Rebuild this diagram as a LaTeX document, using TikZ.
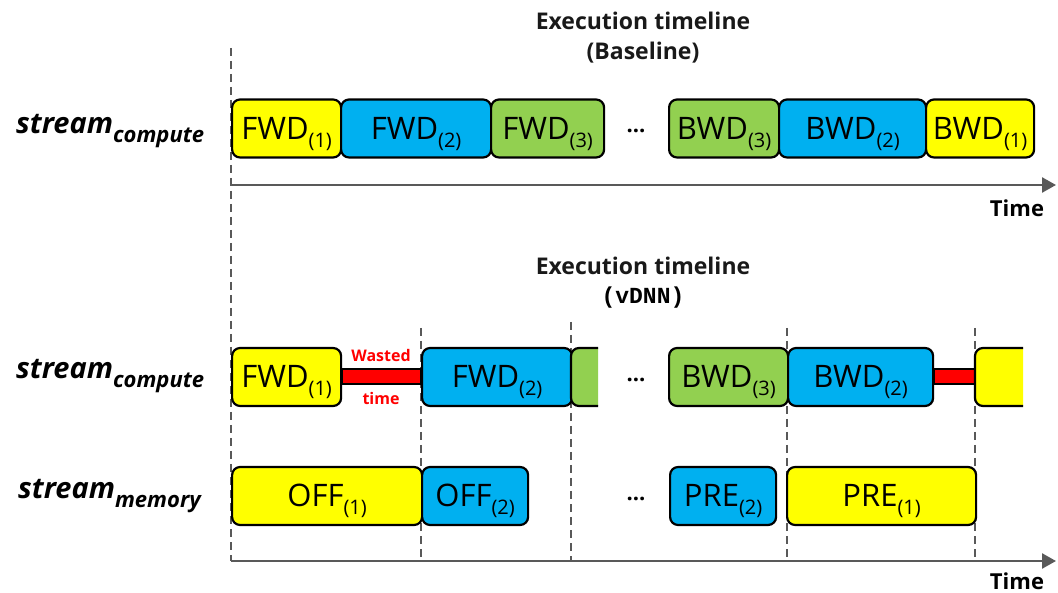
\documentclass[tikz,border=0pt]{standalone}
\usepackage{fontspec}
\setmainfont{Open Sans}
\newfontfamily\monob{Liberation Mono}
\usetikzlibrary{arrows.meta}
\definecolor{cyel}{HTML}{FFFF00}
\definecolor{cblu}{HTML}{00B0F0}
\definecolor{cgrn}{HTML}{92D050}
\definecolor{cred}{HTML}{FF0000}
\definecolor{cgry}{HTML}{595959}
\newcommand{\subx}[1]{\raisebox{-8pt}{\fontsize{20}{20}\selectfont #1}}
\newcommand{\streamlbl}[1]{{\fontsize{29}{29}\selectfont\bfseries\itshape stream}\raisebox{-9pt}{\fontsize{22}{22}\selectfont\bfseries\itshape #1}}
\tikzset{
  blk/.style={draw=black, line width=2.2pt, rounded corners=8pt, inner sep=0pt,
    minimum height=58pt, anchor=west, text height=22pt, text depth=0pt,
    font=\fontsize{31}{31}\selectfont},
  vdash/.style={draw=cgry, line width=2pt, dash pattern=on 8pt off 5pt},
  axisln/.style={draw=cgry, line width=2.5pt, -{Triangle[length=14pt,width=15pt]}},
  ttl/.style={font=\fontsize{23}{23}\selectfont\bfseries, text=black!90, inner sep=0pt},
  timelbl/.style={font=\fontsize{22}{22}\selectfont\bfseries, inner sep=0pt},
  wasted/.style={font=\fontsize{16}{16}\selectfont\bfseries, text=cred, inner sep=0pt},
  redbar/.style={draw=black, fill=cred, line width=2pt},
  dots/.style={font=\fontsize{22}{22}\selectfont\bfseries, inner sep=0pt},
  strm/.style={inner sep=0pt, anchor=west},
}
\begin{document}
\begin{tikzpicture}[x=1pt,y=-1pt]
\useasboundingbox (0,0) rectangle (1058,593);

% titles
\node[ttl] (t1a) at (643,21) {Execution timeline};
\node[ttl] (t1b) at (643,53) {(Baseline)};
\node[ttl] (t2a) at (643,266) {Execution timeline};
\node[font=\fontsize{23}{23}\selectfont\monob\bfseries, inner sep=0pt] (t2b) at (643,298) {(vDNN)};

% stream labels
\node[strm] (s1) at (16,131) {\streamlbl{compute}};
\node[strm] (s2) at (16,376) {\streamlbl{compute}};
\node[strm] (s3) at (18,496) {\streamlbl{memory}};

% dashed guide lines
\coordinate (d0t) at (231,48);  \coordinate (d0b) at (231,561);
\coordinate (d1t) at (421,328); \coordinate (d1b) at (421,561);
\coordinate (d2t) at (571,322); \coordinate (d2b) at (571,561);
\coordinate (d3t) at (787,328); \coordinate (d3b) at (787,561);
\coordinate (d4t) at (975,328); \coordinate (d4b) at (975,561);
\draw[vdash] (d0t) -- (d0b);
\draw[vdash] (d1t) -- (d1b);
\draw[vdash] (d2t) -- (d2b);
\draw[vdash] (d3t) -- (d3b);
\draw[vdash] (d4t) -- (d4b);

% axes
\coordinate (a1l) at (231,185); \coordinate (a1r) at (1056,185);
\coordinate (a2l) at (231,561); \coordinate (a2r) at (1056,561);
\draw[axisln] (a1l) -- (a1r);
\draw[axisln] (a2l) -- (a2r);
\node[timelbl] (tm1) at (1017,208) {Time};
\node[timelbl] (tm2) at (1017,581) {Time};

% baseline row
\node[blk, fill=cyel, minimum width=109pt] (b1) at (231,128.5) {FWD\subx{(1)}};
\node[blk, fill=cblu, minimum width=150pt] (b2) at (340,128.5) {FWD\subx{(2)}};
\node[blk, fill=cgrn, minimum width=113pt] (b3) at (490,128.5) {FWD\subx{(3)}};
\node[dots] (bd) at (636,131) {...};
\node[blk, fill=cgrn, minimum width=110pt] (b4) at (668,128.5) {BWD\subx{(3)}};
\node[blk, fill=cblu, minimum width=147pt] (b5) at (778,128.5) {BWD\subx{(2)}};
\node[blk, fill=cyel, minimum width=108pt] (b6) at (925,128.5) {BWD\subx{(1)}};

% vDNN compute row
\node[blk, fill=cyel, minimum width=109pt] (c1) at (231,377) {FWD\subx{(1)}};
\node[blk, fill=cblu, minimum width=150pt] (c2) at (421,377) {FWD\subx{(2)}};
\draw[redbar] (c1.east |- 0,369) rectangle (c2.west |- 0,384);
\node[wasted] (w1) at (381,356) {Wasted};
\node[wasted] (w2) at (381,399) {time};
\fill[cgrn, rounded corners=8pt] (598,348) -- (571,348) -- (571,406) -- (598,406);
\fill[cgrn] (590,348) rectangle (598,406);
\draw[line width=2.2pt, rounded corners=8pt] (598,348) -- (571,348) -- (571,406) -- (598,406);
\node[dots] (cd) at (636,380) {...};
\node[blk, fill=cgrn, minimum width=119pt] (c4) at (668,377) {BWD\subx{(3)}};
\node[blk, fill=cblu, minimum width=145pt] (c5) at (787,377) {BWD\subx{(2)}};
\draw[redbar] (c5.east |- 0,369) rectangle (975,384);
\fill[cyel, rounded corners=8pt] (1023,348) -- (975,348) -- (975,406) -- (1023,406);
\fill[cyel] (1010,348) rectangle (1023,406);
\draw[line width=2.2pt, rounded corners=8pt] (1023,348) -- (975,348) -- (975,406) -- (1023,406);

% memory row
\node[blk, fill=cyel, minimum width=190pt] (m1) at (231,496) {OFF\subx{(1)}};
\node[blk, fill=cblu, minimum width=106pt] (m2) at (421,496) {OFF\subx{(2)}};
\node[dots] (md) at (636,499) {...};
\node[blk, fill=cblu, minimum width=106pt] (m3) at (669,496) {PRE\subx{(2)}};
\node[blk, fill=cyel, minimum width=189pt] (m4) at (786,496) {PRE\subx{(1)}};
\end{tikzpicture}
\end{document}
